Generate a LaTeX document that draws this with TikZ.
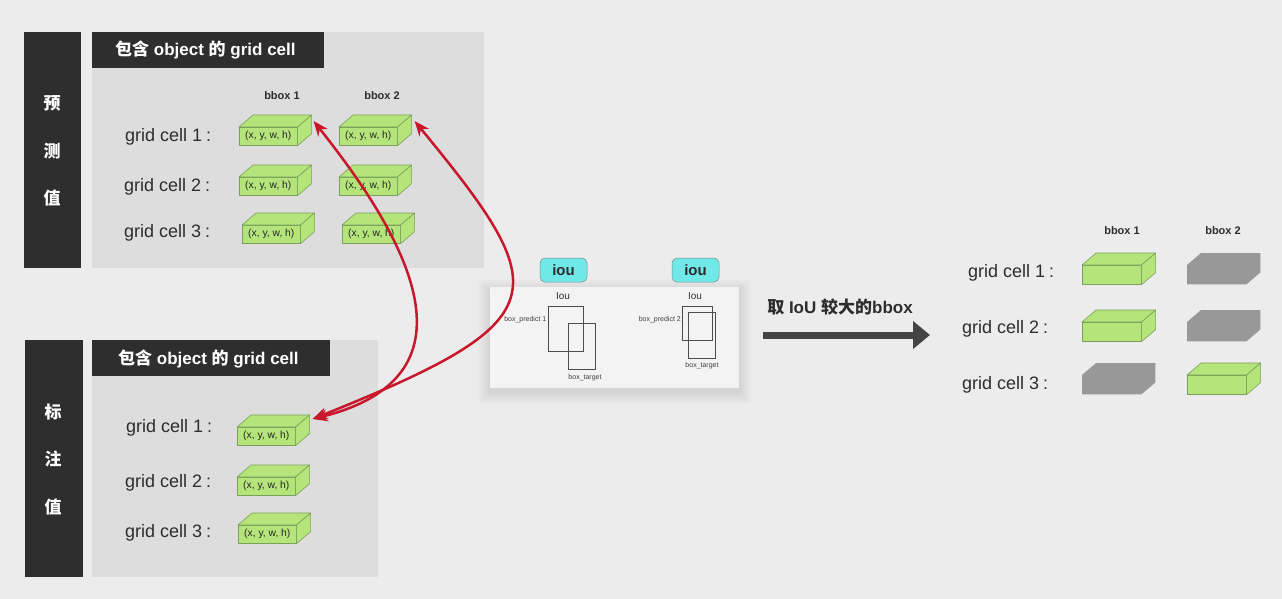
\documentclass[tikz,border=0pt]{standalone}
\usepackage{fontspec}
\setmainfont{Liberation Sans}
\newfontfamily\cjk{Noto Sans CJK SC}
\usetikzlibrary{arrows.meta}
\definecolor{bgc}{RGB}{236,236,236}
\definecolor{panelc}{RGB}{221,221,221}
\definecolor{darkc}{RGB}{46,46,46}
\definecolor{gfill}{RGB}{180,228,122}
\definecolor{gline}{RGB}{122,160,92}
\definecolor{kfillc}{RGB}{152,152,152}
\definecolor{txtc}{RGB}{45,45,45}
\definecolor{redc}{RGB}{200,22,42}
\definecolor{cyanc}{RGB}{112,232,232}
\definecolor{cyanline}{RGB}{120,140,140}
\definecolor{iouc}{RGB}{243,243,243}
\definecolor{arrowc}{RGB}{68,68,68}
\tikzset{
  front/.style={draw=gline, fill=gfill, line width=0.6pt, minimum width=58pt, minimum height=18pt,
    inner sep=0pt, anchor=north west, font=\fontsize{10.3}{11}\selectfont, text=black!85},
  kfront/.style={inner sep=0pt, anchor=north west, minimum width=59pt, minimum height=19pt},
  gface/.style={draw=gline, fill=gfill, line width=0.6pt, line join=round},
  kface/.style={fill=kfillc},
  darkbar/.style={fill=darkc, inner sep=0pt, anchor=north west},
  panel/.style={fill=panelc, inner sep=0pt, anchor=north west},
  headtxt/.style={text=white, font=\fontsize{17}{20}\selectfont\bfseries, anchor=west, inner sep=0pt},
  bartxt/.style={text=white, font=\cjk\fontsize{17}{20}\selectfont\bfseries, inner sep=0pt},
  celltxt/.style={text=txtc, font=\fontsize{18}{20}\selectfont, anchor=base west, inner sep=0pt},
  bboxtxt/.style={text=txtc, font=\fontsize{11}{12}\selectfont\bfseries, inner sep=0pt},
  redarrow/.style={draw=redc, line width=2.5pt, {Stealth[length=15pt,width=12pt]}-{Stealth[length=15pt,width=12pt]}},
  ioutag/.style={draw=cyanline, fill=cyanc, rounded corners=5pt, minimum width=47pt, minimum height=24pt,
    inner sep=0pt, font=\fontsize{15}{16}\selectfont\bfseries, text=txtc, line width=0.5pt},
  ioubox/.style={draw=black!70, line width=0.6pt, inner sep=0pt, anchor=north west},
  tinytxt/.style={font=\fontsize{7}{8}\selectfont, text=black!75, inner sep=0pt},
  ioutitle/.style={font=\fontsize{10}{11}\selectfont, text=black!80, inner sep=0pt},
  bigarrow/.style={draw=arrowc, line width=7pt, -{Triangle[length=17pt,width=27pt]}},
}
\newcommand\gcube[5][]{%
  \node[front,#1] (#2) at (#3,#4) {#5};
  \draw[gface] (#2.north west) -- ++(14,-12) -- ([shift={(14,-12)}]#2.north east) -- (#2.north east) -- cycle;
  \draw[gface] (#2.north east) -- ++(14,-12) -- ([shift={(14,-12)}]#2.south east) -- (#2.south east) -- cycle;
  \coordinate (#2c) at ([shift={(14,-12)}]#2.north east);
}
\newcommand\kcube[3]{%
  \node[kfront] (#1) at (#2,#3) {};
  \fill[kface] (#1.north west) -- ++(14,-12) -- ([shift={(14,-12)}]#1.north east)
     -- ([shift={(14,-12)}]#1.south east) -- (#1.south east) -- (#1.south west) -- cycle;
}
\begin{document}
\begin{tikzpicture}[x=1pt,y=-1pt]
\useasboundingbox (0,0) rectangle (1282,599);
\fill[bgc] (0,0) rectangle (1282,599);

% ---------- top (prediction) ----------
\node[darkbar, minimum width=57pt, minimum height=236pt] (bar1) at (24,32) {};
\node[panel, minimum width=392pt, minimum height=236pt] (panel1) at (92,32) {};
\node[darkbar, minimum width=232pt, minimum height=36pt] (head1) at (92,32) {};
\node[headtxt] (head1t) at (115,50) {{\cjk 包含} object {\cjk 的} grid cell};
\node[bartxt] (y1) at (52,103) {预};
\node[bartxt] (y2) at (52,151) {测};
\node[bartxt] (y3) at (52,198) {值};
\node[bboxtxt] (tb1) at (282,96) {bbox 1};
\node[bboxtxt] (tb2) at (382,96) {bbox 2};
\node[celltxt] (tc1) at (125,142) {grid cell 1\hspace{4pt}:};
\node[celltxt] (tc2) at (124,191) {grid cell 2\hspace{4pt}:};
\node[celltxt] (tc3) at (124,237) {grid cell 3\hspace{4pt}:};
\gcube{t11}{239}{127}{(x, y, w, h)}
\gcube{t12}{339}{127}{(x, y, w, h)}
\gcube{t21}{239}{177}{(x, y, w, h)}
\gcube{t22}{339}{177}{(x, y, w, h)}
\gcube{t31}{242}{225}{(x, y, w, h)}
\gcube{t32}{342}{225}{(x, y, w, h)}

% ---------- bottom (ground truth) ----------
\node[darkbar, minimum width=58pt, minimum height=237pt] (bar2) at (25,340) {};
\node[panel, minimum width=286pt, minimum height=237pt] (panel2) at (92,340) {};
\node[darkbar, minimum width=238pt, minimum height=36pt] (head2) at (92,340) {};
\node[headtxt] (head2t) at (118,359) {{\cjk 包含} object {\cjk 的} grid cell};
\node[bartxt] (z1) at (53,412) {标};
\node[bartxt] (z2) at (53,459) {注};
\node[bartxt] (z3) at (53,507) {值};
\node[celltxt] (bc1) at (126,432) {grid cell 1\hspace{4pt}:};
\node[celltxt] (bc2) at (125,487) {grid cell 2\hspace{4pt}:};
\node[celltxt] (bc3) at (125,537) {grid cell 3\hspace{4pt}:};
\gcube{b1}{237}{427}{(x, y, w, h)}
\gcube{b2}{237}{477}{(x, y, w, h)}
\gcube{b3}{238}{525}{(x, y, w, h)}

% ---------- IoU panel ----------
\foreach \s in {1,...,12} {
  \fill[black, opacity=0.008] (490-\s,287-\s+4) rectangle (739+\s,388+\s+4);
}
\node[fill=iouc, inner sep=0pt, anchor=north west, minimum width=249pt, minimum height=101pt] (ioupanel) at (490,287) {};
\node[ioutag] (tag1) at (563.5,270) {iou};
\node[ioutag] (tag2) at (695.5,270) {iou};
\node[ioutitle] (it1) at (563,296) {Iou};
\node[ioutitle] (it2) at (695,296) {Iou};
\node[ioubox, minimum width=35pt, minimum height=45pt] (p1) at (548,306) {};
\node[ioubox, minimum width=27pt, minimum height=46pt] (g1) at (568,323) {};
\node[tinytxt, anchor=east] (p1t) at (546.5,320) {box\_predict 1};
\node[tinytxt] (g1t) at (585,377.5) {box\_target};
\node[ioubox, minimum width=30pt, minimum height=34pt] (p2) at (682,306) {};
\node[ioubox, minimum width=27pt, minimum height=46pt] (g2) at (688,312) {};
\node[tinytxt, anchor=east] (p2t) at (681,320) {box\_predict 2};
\node[tinytxt] (g2t) at (702,366) {box\_target};

% ---------- big arrow ----------
\node[text=txtc, font=\fontsize{17}{20}\selectfont\bfseries, inner sep=0pt, anchor=base] (atxt) at (840,313)
  {{\cjk 取} IoU {\cjk 较大的}bbox};
\coordinate (bs) at (763,335);
\coordinate (be) at (930,335);
\draw[bigarrow] (bs) -- (be);

% ---------- result ----------
\node[bboxtxt] (rb1) at (1122,231) {bbox 1};
\node[bboxtxt] (rb2) at (1223,231) {bbox 2};
\node[celltxt] (rc1) at (968,277) {grid cell 1\hspace{4pt}:};
\node[celltxt] (rc2) at (962,333) {grid cell 2\hspace{4pt}:};
\node[celltxt] (rc3) at (962,389) {grid cell 3\hspace{4pt}:};
\gcube[minimum width=59pt, minimum height=19pt]{r11}{1082}{265}{}
\kcube{r12}{1187}{265}
\gcube[minimum width=59pt, minimum height=19pt]{r21}{1082}{322}{}
\kcube{r22}{1187}{322}
\kcube{r31}{1082}{375}
\gcube[minimum width=59pt, minimum height=19pt]{r32}{1187}{375}{}

% ---------- red arrows ----------
\coordinate (e1) at ([shift={(2,6)}]t11c);
\coordinate (e2) at ([shift={(3,6)}]t12c);
\coordinate (e0) at ([shift={(3,4)}]b1c);
\draw[redarrow] (e0) .. controls (490,375) and (400,230) .. (e1);
\draw[redarrow] (e0) .. controls (560,320) and (555,292) .. (e2);
\end{tikzpicture}
\end{document}
